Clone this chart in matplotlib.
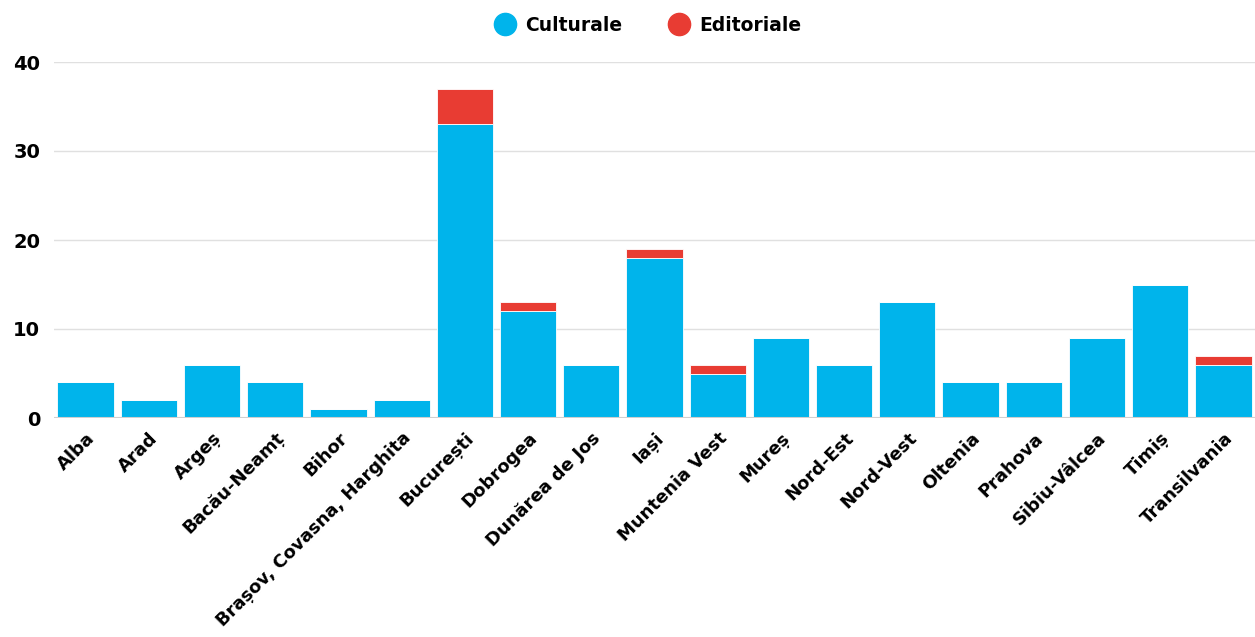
import matplotlib.pyplot as plt
from matplotlib.lines import Line2D

plt.rcParams['font.family'] = ['DejaVu Sans']
plt.rcParams['font.weight'] = 'bold'

regions = ["Alba", "Arad", "Argeș", "Bacău-Neamț", "Bihor", "Brașov, Covasna, Harghita",
           "București", "Dobrogea", "Dunărea de Jos", "Iași", "Muntenia Vest", "Mureș",
           "Nord-Est", "Nord-Vest", "Oltenia", "Prahova", "Sibiu-Vâlcea", "Timiș",
           "Transilvania"]
culturale = [4, 2, 6, 4, 1, 2, 33, 12, 6, 18, 5, 9, 6, 13, 4, 4, 9, 15, 6]
editoriale = [0, 0, 0, 0, 0, 0, 4, 1, 0, 1, 1, 0, 0, 0, 0, 0, 0, 0, 1]
yticks = [0, 10, 20, 30, 40]

BLUE = '#00B4EB'
RED = '#E83C33'

fig = plt.figure(figsize=(12.55, 6.37), dpi=100)
ax = fig.add_axes([54 / 1255, 1 - 418 / 637, 1 - 54 / 1255, (418 - 62) / 637])

x = range(len(regions))
ax.bar(x, culturale, width=0.89, color=BLUE, edgecolor='white', linewidth=0.6, zorder=3)
ax.bar(x, editoriale, width=0.89, bottom=culturale, color=RED, edgecolor='white',
       linewidth=0.6, zorder=3)

ax.set_xlim(-0.5, len(regions) - 0.5)
ax.set_ylim(0, 40)
ax.set_yticks(yticks)
ax.yaxis.grid(True, color='#e0e0e0', linewidth=1, zorder=0)
ax.axhline(0, color='#d0d0d0', linewidth=1.5, zorder=4)
for s in ax.spines.values():
    s.set_visible(False)
ax.tick_params(axis='both', length=0)
ax.tick_params(axis='y', pad=10, labelsize=14)
ax.tick_params(axis='x', pad=8, labelsize=13)
ax.set_xticks(list(x))
ax.set_xticklabels(regions, rotation=45, ha='right', rotation_mode='anchor')

handles = [Line2D([], [], marker='o', linestyle='none', markersize=16, color=BLUE),
           Line2D([], [], marker='o', linestyle='none', markersize=16, color=RED)]
fig.legend(handles, ['Culturale', 'Editoriale'], loc='center', bbox_to_anchor=(0.513, 0.96),
           ncol=2, frameon=False, fontsize=13.5, handletextpad=0.1, columnspacing=2.0)

fig.savefig('out.png', dpi=100)
